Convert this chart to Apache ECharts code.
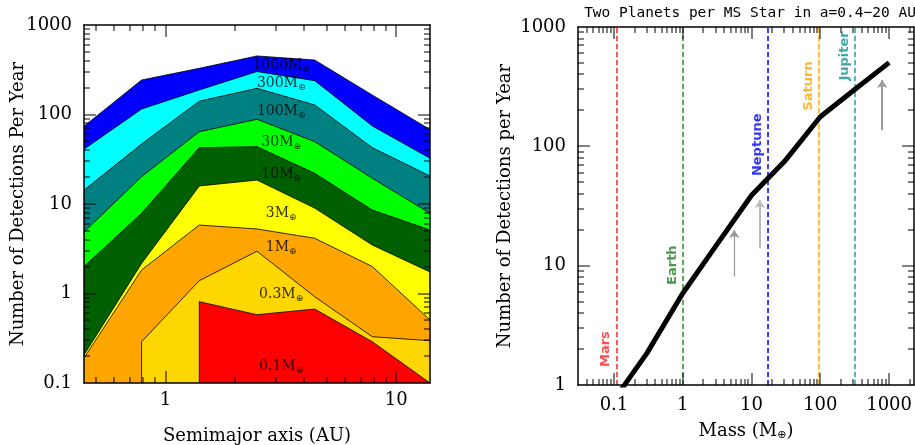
<!DOCTYPE html>
<html>
<head>
<meta charset="utf-8">
<script src="https://cdn.jsdelivr.net/npm/echarts@6/dist/echarts.min.js"></script>
<style>html,body{margin:0;padding:0;background:#fff}#c{width:915px;height:445px}</style>
</head>
<body>
<div id="c"></div>
<script>
// ---------- data: left panel (detections vs semimajor axis, per planet mass) ----------
const semimajor = [0.443, 0.787, 1.40, 2.49, 4.43, 7.87, 14.0];
const bandMasses = ['1000', '300', '100', '30', '10', '3', '1', '0.3', '0.1'];
const det1000 = [74, 243, 328, 451, 406, 165, 68];
const det300  = [41, 115, 188, 302, 239, 74.5, 32.4];
const det100  = [14.3, 46.8, 141, 196, 128, 42.6, 20.6];
const det30   = [4.86, 20.2, 64.2, 88.4, 49.7, 19.4, 7.87];
const det10   = [2.0, 7.87, 42.6, 43.7, 22, 8.57, 5.12];
const det3    = [0.206, 2.17, 15.9, 18.5, 9.0, 3.48, 1.74];
const det1    = [0.19, 1.83, 5.82, 5.26, 4.14, 2.0, 0.506];
const det03   = [null, 0.289, 1.39, 2.97, 0.92, 0.329, 0.297];
const det01   = [null, null, 0.81, 0.58, 0.67, 0.289, 0.1];

// ---------- data: right panel ----------
const mass = [0.1, 0.3, 1, 3, 10, 30, 100, 300, 1000];
const detectionsMS = [0.75, 1.84, 5.87, 14.5, 38.9, 74.5, 177, 292, 503];
const planetNames = ['Mars', 'Earth', 'Neptune', 'Saturn', 'Jupiter'];
const planetMass = [0.107, 1, 17.1, 95.2, 318];

// tick labels
const leftXTickVals = [1, 10];
const leftXTickLabels = ['1', '10'];
const leftYTickVals = [0.1, 1, 10, 100, 1000];
const leftYTickLabels = ['0.1', '1', '10', '100', '1000'];
const rightXTickVals = [0.1, 1, 10, 100, 1000];
const rightXTickLabels = ['0.1', '1', '10', '100', '1000'];
const rightYTickVals = [1, 10, 100, 1000];
const rightYTickLabels = ['1', '10', '100', '1000'];

// ---------- styles / layout ----------
const bandColors = ['#0000ff', '#00ffff', '#008080', '#00ff00', '#006000', '#ffff00', '#ffa500', '#ffd700', '#ff0000'];
const planetColors = ['#ff2020', '#2a8a2a', '#0000ff', '#ffa500', '#2aa0a0'];
const planetLabelColors = ['#ff2020', '#1f7a1f', '#0000ff', '#ffa500', '#149090'];
const SERIF = '"DejaVu Serif", serif';
const SANS = '"DejaVu Sans", sans-serif';

const LX = [0.443, 14], LY = [0.1, 1000], RX = [0.03, 2300], RY = [1, 1000];
const grids = [
  { left: 84, top: 25, width: 346, height: 358, outerBoundsMode: 'none', containLabel: false },
  { left: 578, top: 27, width: 336, height: 358, outerBoundsMode: 'none', containLabel: false }
];

function fmt(vals, labels) {
  return v => {
    for (let i = 0; i < vals.length; i++) if (Math.abs(Math.log10(v) - Math.log10(vals[i])) < 1e-6) return labels[i];
    return '';
  };
}

function decadeTicks(lo, hi) {
  const out = [];
  for (let e = Math.floor(Math.log10(lo)); e <= Math.ceil(Math.log10(hi)); e++) {
    for (let k = 1; k <= 9; k++) {
      const v = k * Math.pow(10, e);
      if (v > lo * 1.0001 && v < hi * 0.9999) out.push([v, k === 1 ? 12 : 6]);
    }
  }
  return out;
}

const bandArrays = [det1000, det300, det100, det30, det10, det3, det1, det03, det01];
const bandSeries = bandArrays.map((arr, i) => {
  const pts = [];
  arr.forEach((v, j) => { if (v != null) pts.push([semimajor[j], v]); });
  if (arr[0] == null) pts.unshift([pts[0][0], LY[0]]);
  return {
    type: 'line', xAxisIndex: 0, yAxisIndex: 0, data: pts, symbol: 'none', silent: true,
    lineStyle: { color: '#000', width: 0.8 },
    areaStyle: { color: bandColors[i], opacity: 1, origin: 'start' },
    z: 2 + i * 0.01
  };
});

// band label anchor points (annotation layout)
const bandLabelX = 3.17;
const bandLabelY = [357, 225, 109, 49.3, 21.6, 7.94, 3.31, 0.986, 0.155];
const planetLabelY = [2.0, 10.1, 103, 321, 572];

const subRich = {
  n: { fontFamily: SERIF, fontSize: 14, color: '#000' },
  s: { fontFamily: SANS, fontSize: 9, color: '#000', padding: [9, 0, 0, 0] }
};

const axisLineStyle = { show: true, lineStyle: { color: '#000', width: 1.5 } };
function mkAxis(gi, r, pos, vals, labels, name, gap, margin, rich) {
  const a = {
    type: 'log', logBase: 10, gridIndex: gi, min: r[0], max: r[1], position: pos, z: 15,
    axisLine: axisLineStyle, axisTick: { show: false }, splitLine: { show: false }, minorTick: { show: false },
    axisLabel: { show: !!vals, customValues: vals || undefined, formatter: vals ? fmt(vals, labels) : undefined,
      fontFamily: SERIF, fontSize: 18, color: '#000', margin: margin || 12 }
  };
  if (name) {
    a.name = name; a.nameLocation = 'middle'; a.nameGap = gap; a.nameMoveOverlap = false;
    a.nameTextStyle = { fontFamily: SERIF, fontSize: 18, color: '#000', rich: rich };
  }
  return a;
}

// inward tick marks on all four sides (axis decoration), as thin rectangles on a top layer
function logFrac(v, r) { return (Math.log10(v) - Math.log10(r[0])) / (Math.log10(r[1]) - Math.log10(r[0])); }
function tickGraphics(gi, xr, yr) {
  const g = grids[gi], out = [];
  const B = g.top + g.height, R = g.left + g.width;
  const st = { fill: '#000' };
  const base = { type: 'rect', zlevel: 1, z: 100, silent: true, style: st };
  decadeTicks(xr[0], xr[1]).forEach(([v, L]) => {
    const px = Math.round(g.left + logFrac(v, xr) * g.width);
    out.push(Object.assign({}, base, { shape: { x: px - 0.5, y: B - L, width: 1, height: L } }));
    out.push(Object.assign({}, base, { shape: { x: px - 0.5, y: g.top, width: 1, height: L } }));
  });
  decadeTicks(yr[0], yr[1]).forEach(([v, L]) => {
    const py = Math.round(B - logFrac(v, yr) * g.height);
    out.push(Object.assign({}, base, { shape: { x: g.left, y: py - 0.5, width: L, height: 1 } }));
    out.push(Object.assign({}, base, { shape: { x: R - L, y: py - 0.5, width: L, height: 1 } }));
  });
  return out;
}

const titleGraphic = { type: 'text', x: 750, y: 13, z: 100,
  style: { text: 'Two Planets per MS Star in a=0.4\u221220 AU', fontFamily: '"DejaVu Sans Mono", monospace',
    fontSize: 14.5, fill: '#000', align: 'center', verticalAlign: 'middle' } };

const option = {
  animation: false,
  backgroundColor: '#fff',
  grid: grids,
  xAxis: [
    mkAxis(0, LX, 'bottom', leftXTickVals, leftXTickLabels, 'Semimajor axis (AU)', 44, 8),
    mkAxis(0, LX, 'top'),
    mkAxis(1, RX, 'bottom', rightXTickVals, rightXTickLabels, '{t|Mass (M}{s|⊕}{t|)}', 36, 11,
      { t: { fontFamily: SERIF, fontSize: 18, color: '#000' }, s: { fontFamily: SANS, fontSize: 11, color: '#000', padding: [9, 0, 0, 0] } }),
    mkAxis(1, RX, 'top')
  ],
  yAxis: [
    mkAxis(0, LY, 'left', leftYTickVals, leftYTickLabels, 'Number of Detections Per Year', 57),
    mkAxis(0, LY, 'right'),
    mkAxis(1, RY, 'left', rightYTickVals, rightYTickLabels, 'Number of Detections per Year', 64),
    mkAxis(1, RY, 'right')
  ],
  graphic: { elements: [titleGraphic].concat(tickGraphics(0, LX, LY), tickGraphics(1, RX, RY)) },
  series: bandSeries.concat([
    {
      type: 'scatter', xAxisIndex: 0, yAxisIndex: 0, symbolSize: 0, z: 12, silent: true,
      data: bandLabelY.map((y, i) => [bandLabelX, y, bandMasses[i]]),
      label: { show: true, position: 'inside', formatter: p => '{n|' + p.value[2] + 'M}{s|⊕}', rich: subRich }
    },
    {
      type: 'line', xAxisIndex: 2, yAxisIndex: 2, data: [], silent: true, z: 3,
      markLine: {
        symbol: 'none', silent: true, label: { show: false }, animation: false,
        data: planetMass.map((m, i) => ({ xAxis: m, lineStyle: { color: planetColors[i], type: [5, 3], width: 1.5 } }))
      }
    },
    {
      type: 'scatter', xAxisIndex: 2, yAxisIndex: 2, symbolSize: 0, z: 12, silent: true,
      data: planetMass.map((m, i) => ({ value: [m, planetLabelY[i], planetNames[i]], label: { color: planetLabelColors[i] } })),
      label: { show: true, position: 'inside', rotate: 90, offset: [0, -10],
        formatter: p => p.value[2], fontFamily: SANS, fontWeight: 'bold', fontSize: 13 }
    },
    {
      type: 'line', xAxisIndex: 2, yAxisIndex: 2, data: mass.map((m, i) => [m, detectionsMS[i]]),
      symbol: 'none', lineStyle: { color: '#000', width: 5 }, z: 8, clip: true, silent: true
    },
    {
      type: 'line', xAxisIndex: 2, yAxisIndex: 2, data: [], silent: true, z: 9,
      markLine: {
        symbol: ['none', 'arrow'], symbolSize: 8, silent: true, label: { show: false }, animation: false,
        data: [
          [{ coord: [5.6, 8.1], lineStyle: { color: '#999', width: 1.2, type: 'solid' } }, { coord: [5.6, 19.9] }],
          [{ coord: [13.2, 14], lineStyle: { color: '#bbb', width: 2, type: 'solid' } }, { coord: [13.2, 35.5] }],
          [{ coord: [792, 137], lineStyle: { color: '#999', width: 2, type: 'solid' } }, { coord: [792, 360] }]
        ]
      }
    }
  ])
};

const chart = echarts.init(document.getElementById('c'), null, { renderer: 'canvas' });
chart.setOption(option);
</script>
</body>
</html>
